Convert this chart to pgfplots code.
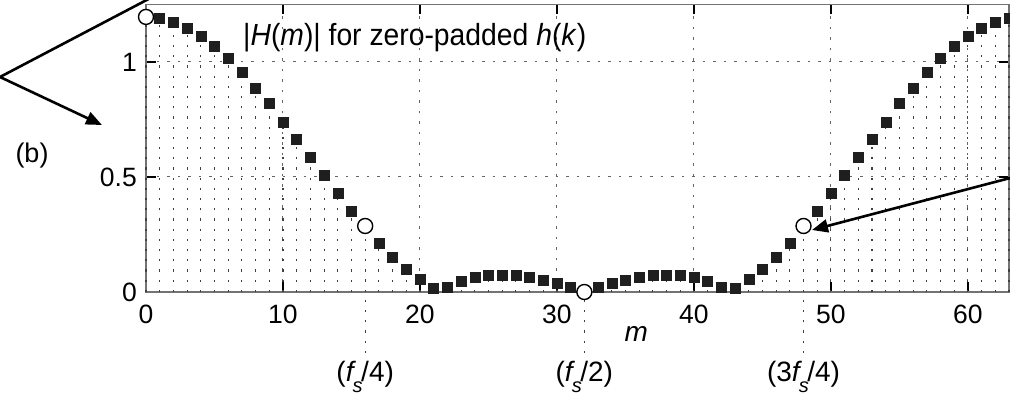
\documentclass[border=0pt]{standalone}
\usepackage{fontspec}
\setmainfont{Liberation Sans}
\usepackage{pgfplots}
\usepackage{pgfplotstable}
\pgfplotsset{compat=1.18}
\usetikzlibrary{arrows.meta}

% all points (for the dotted stems)
\pgfplotstableread{
m v
0 1.196
1 1.189
2 1.174
3 1.147
4 1.113
5 1.067
6 1.016
7 0.955
8 0.887
9 0.819
10 0.739
11 0.663
12 0.586
13 0.508
14 0.428
15 0.350
16 0.287
17 0.210
18 0.151
19 0.099
20 0.055
21 0.015
22 0.022
23 0.047
24 0.064
25 0.074
26 0.075
27 0.074
28 0.065
29 0.053
30 0.038
31 0.020
32 0.000
33 0.020
34 0.038
35 0.053
36 0.065
37 0.074
38 0.075
39 0.074
40 0.064
41 0.047
42 0.022
43 0.015
44 0.055
45 0.099
46 0.151
47 0.210
48 0.287
49 0.350
50 0.428
51 0.508
52 0.586
53 0.663
54 0.739
55 0.819
56 0.887
57 0.955
58 1.016
59 1.067
60 1.113
61 1.147
62 1.174
63 1.189
}\alltable

% square markers
\pgfplotstableread{
m v
1 1.189
2 1.174
3 1.147
4 1.113
5 1.067
6 1.016
7 0.955
8 0.887
9 0.819
10 0.739
11 0.663
12 0.586
13 0.508
14 0.428
15 0.350
17 0.210
18 0.151
19 0.099
20 0.055
21 0.015
22 0.022
23 0.047
24 0.064
25 0.074
26 0.075
27 0.074
28 0.065
29 0.053
30 0.038
31 0.020
33 0.020
34 0.038
35 0.053
36 0.065
37 0.074
38 0.075
39 0.074
40 0.064
41 0.047
42 0.022
43 0.015
44 0.055
45 0.099
46 0.151
47 0.210
49 0.350
50 0.428
51 0.508
52 0.586
53 0.663
54 0.739
55 0.819
56 0.887
57 0.955
58 1.016
59 1.067
60 1.113
61 1.147
62 1.174
63 1.189
}\sqtable

% circle markers
\pgfplotstableread{
m v
0 1.196
16 0.287
32 0.000
48 0.287
}\circtable

\tikzset{stem/.style={black!75, line width=1.1bp, dash pattern=on 2.2bp off 8bp}}

\begin{document}
\begin{tikzpicture}
\useasboundingbox (0,0) rectangle (1010bp,397bp);
\begin{axis}[
  at={(146bp,105bp)}, anchor=south west,
  scale only axis,
  width=863bp, height=287.5bp,
  xmin=0, xmax=63, ymin=0, ymax=1.25,
  clip=false,
  axis line style={black!55, line width=1.4bp},
  xtick={0,10,...,60},
  ytick={0,0.5,1},
  yticklabels={0,0.5,1},
  tick align=inside,
  major tick length=10bp,
  every tick/.style={black, line width=1.2bp},
  grid=major,
  major grid style={black!60, line width=1bp, dash pattern=on 2.5bp off 8bp},
  /pgf/number format/assume math mode=true,
  ticklabel style={font=\fontsize{26.5bp}{30bp}\selectfont},
  xticklabel style={anchor=north, inner sep=0pt, yshift=-13bp},
  yticklabel style={anchor=east, inner sep=0pt, xshift=-9bp},
]
% dotted stems
\addplot[stem, ycomb, mark=none] table[x=m, y=v] {\alltable};
% extended stems at fs/4, fs/2, 3fs/4
\addplot[stem] coordinates {(16,-0.265) (16,0.287)};
\addplot[stem] coordinates {(32,-0.265) (32,0)};
\addplot[stem] coordinates {(48,-0.265) (48,0.287)};
% squares
\addplot[only marks, mark=square*, mark size=5bp, mark options={fill=black!88, draw=black!88, line width=0.4bp}] table[x=m, y=v] {\sqtable};
% circles
\addplot[only marks, mark=*, mark size=7.5bp, mark options={fill=white, draw=black, line width=1.4bp}] table[x=m, y=v] {\circtable};
% labels
\node[anchor=base, font=\fontsize{28bp}{30bp}\selectfont] at (axis cs:35.8,-0.217) {\textit{m}};
\node[anchor=base, font=\fontsize{28bp}{30bp}\selectfont] at (axis cs:16,-0.387) {(\textit{f}\kern-0.12em\raisebox{-0.42em}{\fontsize{20bp}{22bp}\selectfont\textit{s}}\kern-0.05em/4)};
\node[anchor=base, font=\fontsize{28bp}{30bp}\selectfont] at (axis cs:32,-0.387) {(\textit{f}\kern-0.12em\raisebox{-0.42em}{\fontsize{20bp}{22bp}\selectfont\textit{s}}\kern-0.05em/2)};
\node[anchor=base, font=\fontsize{28bp}{30bp}\selectfont] at (axis cs:48,-0.387) {(3\textit{f}\kern-0.12em\raisebox{-0.42em}{\fontsize{20bp}{22bp}\selectfont\textit{s}}\kern-0.05em/4)};
\end{axis}
% title inside plot
\node[anchor=base west, inner sep=0pt, font=\fontsize{28.3bp}{32bp}\selectfont] at (243bp,351bp) {\scalebox{1}[1.08]{|\textit{H}(\textit{m})| for zero-padded \textit{h}(\textit{k})}};
% (b)
\node[anchor=base, inner sep=0pt, font=\fontsize{27bp}{30bp}\selectfont] at (32bp,234bp) {(b)};
% arrows
\draw[line width=2.6bp, black] (0bp,320bp) -- (160bp,404bp);
\draw[line width=2.6bp, black, -{Triangle[length=16bp, width=13bp]}] (0bp,320bp) -- (102bp,272bp);
\draw[line width=2.6bp, black, -{Triangle[length=16bp, width=13bp]}] (1014bp,220bp) -- (812bp,167bp);
\end{tikzpicture}
\end{document}
